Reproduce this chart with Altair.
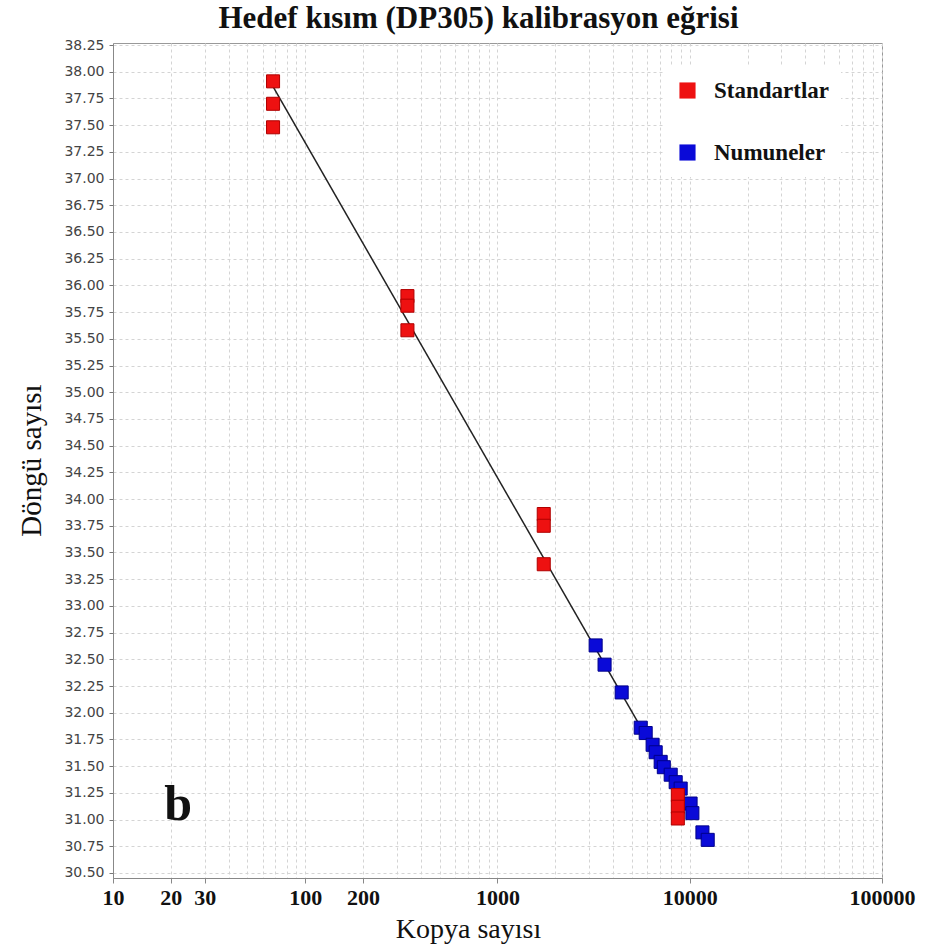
import altair as alt
import pandas as pd

# Standards (red)
std_x = [68, 68, 68, 340, 340, 340, 1740, 1740, 1740, 8670, 8670, 8670]
std_y = [37.91, 37.70, 37.48, 35.90, 35.81, 35.58, 33.86, 33.75, 33.39, 31.23, 31.12, 31.01]

# Samples (blue)
smp_x = [3240, 3605, 4425, 5560, 5900, 6410, 6650, 7060, 7330, 7960, 8450, 8970, 10100, 10320, 11640, 12400]
smp_y = [32.63, 32.45, 32.19, 31.86, 31.81, 31.70, 31.63, 31.54, 31.49, 31.42, 31.35, 31.29, 31.15, 31.06, 30.88, 30.81]

# Calibration line end points
line_x = [68, 8670]
line_y = [37.86, 31.26]

x_labels = [10, 20, 30, 100, 200, 1000, 10000, 100000]
x_grid = [m * 10 ** e for e in range(1, 5) for m in range(1, 10)] + [100000]
y_ticks = [30.50 + 0.25 * i for i in range(32)]

groups = ["Standartlar", "Numuneler"]

pts = pd.DataFrame({
    "x": smp_x + std_x,
    "y": smp_y + std_y,
    "g": ["Numuneler"] * len(smp_x) + ["Standartlar"] * len(std_x),
})
line_df = pd.DataFrame({"x": line_x, "y": line_y})
lab_df = pd.DataFrame({"x": [21.8], "y": [31.14], "t": ["b"]})

xscale = alt.Scale(type="log", domain=[10, 100000], nice=False)
yscale = alt.Scale(domain=[30.453, 38.269], nice=False, zero=False)

lab_test = "indexof([" + ",".join(str(v) for v in x_labels) + "], datum.value) >= 0"

xaxis = alt.Axis(
    values=x_grid, tickCount=100,
    labelExpr=lab_test + " ? datum.label : ''",
    format="d",
    grid=True, gridDash=[3, 3], gridColor="#d4d4d4",
    tickSize=5, tickColor="#888",
    tickOpacity={"condition": {"test": lab_test, "value": 1}, "value": 0},
    labelPadding=4,
    labelFont="Liberation Serif", labelFontWeight="bold", labelFontSize=22, labelColor="#111",
    labelOverlap=False, labelFlush=False,
    domainColor="#888",
    title="Kopya sayısı", titleFont="Liberation Serif", titleFontWeight="normal",
    titleFontSize=28, titleColor="#111", titleX=355, titleY=37, titleBaseline="top",
)
yaxis = alt.Axis(
    values=y_ticks, tickCount=100, format=".2f",
    grid=True, gridDash=[3, 3], gridColor="#d4d4d4",
    tickSize=4, tickColor="#777", labelPadding=5,
    labelFont="DejaVu Sans", labelFontSize=14, labelColor="#444",
    labelOverlap=False,
    domainColor="#888",
    title="Döngü sayısı", titleFont="Liberation Serif", titleFontWeight="normal",
    titleFontSize=29, titleColor="#111", titleX=-82, titleY=417, titleBaseline="middle",
)

points = alt.Chart(pts).mark_square(size=170, opacity=1, strokeWidth=1).encode(
    x=alt.X("x:Q", scale=xscale, axis=xaxis),
    y=alt.Y("y:Q", scale=yscale, axis=yaxis),
    color=alt.Color("g:N", scale=alt.Scale(domain=groups, range=["#ee1111", "#0a0ad8"]),
                    legend=alt.Legend(
                        title=None, orient="none", legendX=551, legendY=24,
                        symbolType="square", symbolSize=260, symbolStrokeWidth=0,
                        labelFont="Liberation Serif", labelFontWeight="bold", labelFontSize=23,
                        labelColor="#111", rowPadding=38, padding=12, fillColor="white",
                        labelOffset=15, symbolOpacity=1,
                    )),
    stroke=alt.Stroke("g:N", scale=alt.Scale(domain=groups, range=["#b00000", "#00008a"]), legend=None),
    order=alt.Order("ord:Q"),
).transform_calculate(ord="datum.g == 'Standartlar' ? 1 : 0")

line = alt.Chart(line_df).mark_line(color="#222", strokeWidth=1.5).encode(
    x=alt.X("x:Q", scale=xscale),
    y=alt.Y("y:Q", scale=yscale),
)

label = alt.Chart(lab_df).mark_text(font="Liberation Serif", fontWeight="bold", fontSize=50,
                                    color="#111", baseline="middle", align="center").encode(
    x=alt.X("x:Q", scale=xscale),
    y=alt.Y("y:Q", scale=yscale),
    text="t:N",
)

chart = alt.layer(line, points, label).properties(
    width=769, height=835,
    title=alt.TitleParams("Hedef kısım (DP305) kalibrasyon eğrisi", font="Liberation Serif",
                          fontWeight="bold", fontSize=31, color="#111", anchor="middle",
                          offset=3, dx=-19),
    autosize=alt.AutoSizeParams(type="none"),
    padding={"left": 113, "top": 43, "right": 51, "bottom": 74},
    background="white",
).configure_view(stroke="#999", strokeWidth=1)

chart.save("out.html", embed_options={"renderer": "svg", "actions": False})
